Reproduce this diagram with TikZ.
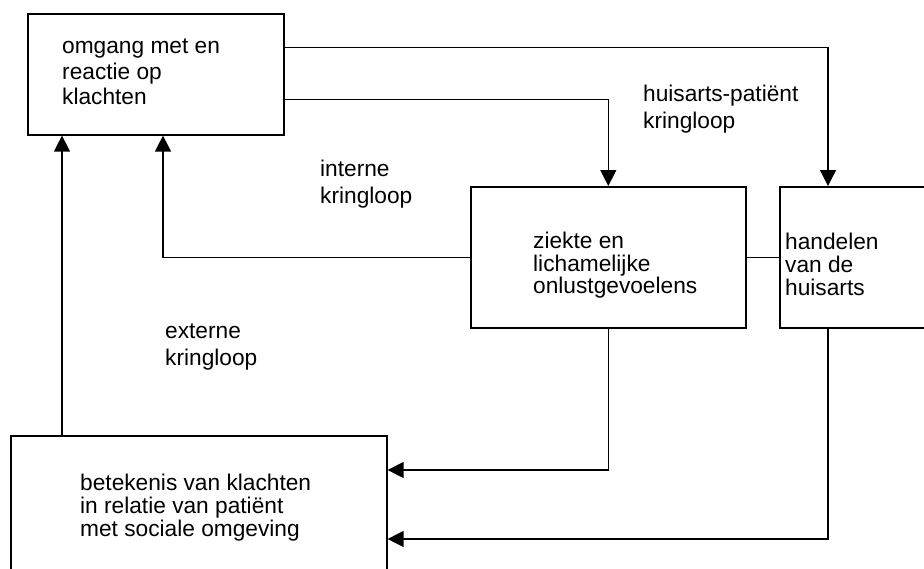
\documentclass[tikz,border=0pt]{standalone}
\usepackage{fontspec}
\setmainfont{Liberation Sans}
\usetikzlibrary{arrows.meta}
\begin{document}
\begin{tikzpicture}[x=1pt,y=-1pt,
 box/.style={draw, line width=1.6pt, inner sep=0pt, anchor=north west},
 txt/.style={inner sep=0pt, align=left, anchor=west, font=\fontsize{22.7}{#1}\selectfont},
 txt/.default=25,
 conn/.style={line width=1.3pt},
 arr/.style={conn, -{Triangle[length=16pt,width=16pt]}}]
\useasboundingbox (0,0) rectangle (924,568);
% boxes
\node[box, minimum width=256pt, minimum height=121pt] (A) at (27,13) {};
\node[box, minimum width=275pt, minimum height=141pt] (Z) at (470,186) {};
\node[box, minimum width=170pt, minimum height=141pt] (H) at (779,186) {};
\node[box, minimum width=376pt, minimum height=160pt] (B) at (10,435) {};
% box texts
\node[txt=25.5] (At) at (62,72) {omgang met en\\reactie op\\klachten};
\node[txt=22.5] (Zt) at (533,265.5) {ziekte en\\lichamelijke\\onlustgevoelens};
\node[txt=23] (Ht) at (785,264) {handelen\\van de\\huisarts};
\node[txt=23] (Bt) at (80,507.5) {betekenis van klachten\\in relatie van patiënt\\met sociale omgeving};
% loop labels
\node[txt=27] (L1) at (643,109.5) {huisarts-patiënt\\kringloop};
\node[txt=27] (L2) at (320,184) {interne\\kringloop};
\node[txt=26.5] (L3) at (165,347) {externe\\kringloop};
% connectors
\draw[arr] ([yshift=26.5pt]A.east) -| ([xshift=49pt]H.north west);
\draw[arr] ([yshift=-25.5pt]A.east) -| (Z.north);
\draw[arr] (Z.west) -| ([xshift=136pt]A.south west);
\draw[conn] (Z.east) -- (H.west |- Z.east);
\draw[arr] ([xshift=52pt]B.north west) -- ([xshift=35pt]A.south west);
\draw[arr] (Z.south) |- ([yshift=-35pt]B.north east);
\draw[arr] ([xshift=49pt]H.south west) |- ([yshift=-104pt]B.north east);
\end{tikzpicture}
\end{document}
